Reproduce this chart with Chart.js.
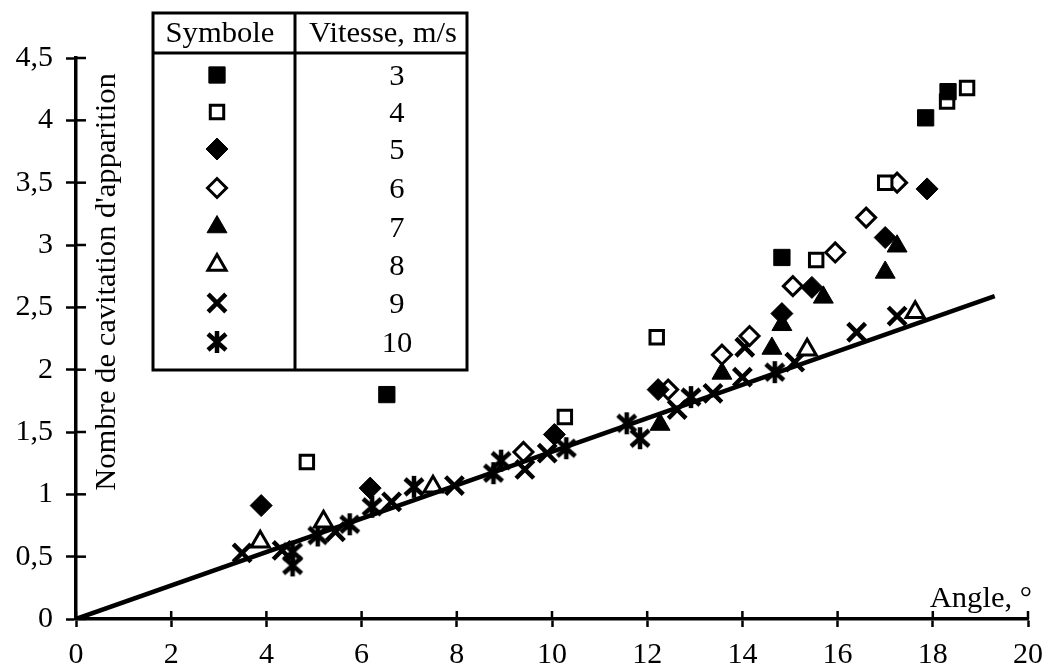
<!DOCTYPE html>
<html lang="fr">
<head>
<meta charset="utf-8">
<title>Nombre de cavitation d'apparition</title>
<script src="https://cdn.jsdelivr.net/npm/chart.js@4.4.1/dist/chart.umd.min.js"></script>
<style>
  html, body { margin: 0; padding: 0; background: #fff; }
  #cadre { position: relative; width: 1057px; height: 671px; }
</style>
</head>
<body>
<div id="cadre"><canvas id="grafico"></canvas></div>
<script>
// Valeurs : angle (°) et nombre de cavitation, pour chaque vitesse (m/s)
const vitesses = ['3', '4', '5', '6', '7', '8', '9', '10'];

const angleV3 = [6.53, 14.83, 17.85, 18.32];
const sigmaV3 = [1.80, 2.90, 4.02, 4.23];

const angleV4 = [4.85, 10.27, 12.2, 15.55, 17.0, 18.3, 18.72];
const sigmaV4 = [1.26, 1.62, 2.26, 2.88, 3.50, 4.15, 4.26];

const angleV5 = [3.89, 6.18, 10.05, 12.23, 14.83, 15.46, 17.0, 17.88];
const sigmaV5 = [0.91, 1.05, 1.48, 1.84, 2.45, 2.66, 3.06, 3.45];

const angleV6 = [9.4, 12.44, 13.57, 14.15, 15.06, 15.95, 16.6, 17.25];
const sigmaV6 = [1.34, 1.84, 2.12, 2.27, 2.67, 2.94, 3.22, 3.50];

const angleV7 = [12.27, 13.57, 14.62, 14.83, 15.7, 17.0, 17.25];
const sigmaV7 = [1.56, 1.97, 2.17, 2.36, 2.58, 2.78, 2.99];

const angleV8 = [3.87, 5.2, 7.5, 15.36, 17.63];
const sigmaV8 = [0.62, 0.78, 1.06, 2.16, 2.46];

const angleV9 = [3.49, 4.33, 5.45, 6.63, 7.95, 9.43, 9.9, 12.63, 13.38, 14.0, 14.05, 15.1, 16.4, 17.25];
const sigmaV9 = [0.53, 0.55, 0.70, 0.94, 1.07, 1.20, 1.33, 1.68, 1.81, 1.94, 2.18, 2.06, 2.30, 2.43];

const angleV10 = [4.55, 4.55, 5.08, 5.75, 6.22, 7.1, 8.77, 8.93, 10.3, 11.57, 11.85, 12.92, 14.68];
const sigmaV10 = [0.54, 0.43, 0.67, 0.76, 0.90, 1.06, 1.17, 1.27, 1.37, 1.57, 1.45, 1.78, 1.98];

// droite de corrélation
const droiteAngle = [0, 19.3];
const droiteSigma = [0, 2.59];

const ticksX = [0, 2, 4, 6, 8, 10, 12, 14, 16, 18, 20];
const ticksY = [0, 0.5, 1, 1.5, 2, 2.5, 3, 3.5, 4, 4.5];

const police = 'Liberation Serif, Times New Roman, serif';

function points(xs, ys) {
  return xs.map((x, i) => ({ x: x, y: ys[i] }));
}

// astérisque (vitesse 10 m/s)
function etoile() {
  const c = document.createElement('canvas');
  c.width = 24; c.height = 24;
  const g = c.getContext('2d');
  g.strokeStyle = '#000';
  g.lineWidth = 4.5;
  g.beginPath();
  g.moveTo(12, 1); g.lineTo(12, 23);
  g.moveTo(3, 4); g.lineTo(21, 20);
  g.moveTo(21, 4); g.lineTo(3, 20);
  g.stroke();
  return c;
}

const symboles = [
  { pointStyle: 'rect', pointRadius: 11.5, pointBackgroundColor: '#000', pointBorderWidth: 1 },
  { pointStyle: 'rect', pointRadius: 9.5, pointBackgroundColor: '#fff', pointBorderWidth: 3 },
  { pointStyle: 'rectRot', pointRadius: 11, pointBackgroundColor: '#000', pointBorderWidth: 1 },
  { pointStyle: 'rectRot', pointRadius: 9.5, pointBackgroundColor: '#fff', pointBorderWidth: 3 },
  { pointStyle: 'triangle', pointRadius: 11.5, pointBackgroundColor: '#000', pointBorderWidth: 1 },
  { pointStyle: 'triangle', pointRadius: 10.5, pointBackgroundColor: '#fff', pointBorderWidth: 3 },
  { pointStyle: 'crossRot', pointRadius: 12.5, pointBackgroundColor: '#000', pointBorderWidth: 4.5 },
  { pointStyle: etoile(), pointRadius: 12, pointBackgroundColor: '#000', pointBorderWidth: 0 }
];

const series = [
  points(angleV3, sigmaV3), points(angleV4, sigmaV4), points(angleV5, sigmaV5),
  points(angleV6, sigmaV6), points(angleV7, sigmaV7), points(angleV8, sigmaV8),
  points(angleV9, sigmaV9), points(angleV10, sigmaV10)
];

const datasets = series.map((d, i) => Object.assign({
  label: vitesses[i] + ' m/s',
  data: d,
  pointBorderColor: '#000',
  pointHoverRadius: symboles[i].pointRadius,
  showLine: false
}, symboles[i]));

datasets.push({
  type: 'line',
  label: 'droite',
  data: points(droiteAngle, droiteSigma),
  borderColor: '#000',
  borderWidth: 4.5,
  pointRadius: 0,
  fill: false,
  order: -1
});

// texte légèrement étiré comme dans la figure
function texte(ctx, str, x, y, align, rot) {
  ctx.save();
  ctx.translate(x, y);
  if (rot) ctx.rotate(rot);
  ctx.scale(1.02, 1);
  ctx.textAlign = align;
  ctx.fillText(str, 0, 0);
  ctx.restore();
}

const habillage = {
  id: 'habillage',
  afterDraw(chart) {
    const ctx = chart.ctx;
    const sx = chart.scales.x, sy = chart.scales.y;
    ctx.save();
    ctx.strokeStyle = '#000';
    ctx.fillStyle = '#000';

    // partie intérieure des graduations
    ctx.lineWidth = 2.5;
    ticksX.forEach(v => {
      const p = sx.getPixelForValue(v);
      ctx.beginPath(); ctx.moveTo(p, sy.bottom); ctx.lineTo(p, sy.bottom - 8); ctx.stroke();
    });
    ticksY.forEach(v => {
      const p = sy.getPixelForValue(v);
      ctx.beginPath(); ctx.moveTo(sx.left, p); ctx.lineTo(sx.left + 10, p); ctx.stroke();
    });

    // titres des axes
    ctx.font = '30px ' + police;
    ctx.textBaseline = 'alphabetic';
    texte(ctx, "Nombre de cavitation d'apparition", 115, 282, 'center', -Math.PI / 2);
    texte(ctx, 'Angle, °', 1032, 607, 'right', 0);

    // tableau des symboles
    const g = 153, d = 467, h = 13, b = 370, ligne = 53, col = 295;
    ctx.lineWidth = 3;
    ctx.strokeRect(g, h, d - g, b - h);
    ctx.beginPath();
    ctx.moveTo(g, ligne); ctx.lineTo(d, ligne);
    ctx.moveTo(col, h); ctx.lineTo(col, b);
    ctx.stroke();
    texte(ctx, 'Symbole', 220, 42, 'center', 0);
    texte(ctx, 'Vitesse, m/s', 383, 42, 'center', 0);

    const rangs = [75, 112, 149, 188, 227, 265, 303, 342];
    vitesses.forEach((v, i) => {
      ctx.fillStyle = '#000';
      texte(ctx, v, 397, rangs[i] + 10, 'center', 0);
      const s = symboles[i];
      ctx.fillStyle = s.pointBackgroundColor;
      ctx.strokeStyle = '#000';
      ctx.lineWidth = s.pointBorderWidth;
      Chart.helpers.drawPoint(ctx, {
        pointStyle: s.pointStyle, radius: s.pointRadius,
        borderWidth: s.pointBorderWidth, rotation: 0
      }, 217, rangs[i]);
    });
    ctx.restore();
  }
};

new Chart(document.getElementById('grafico').getContext('2d'), {
  type: 'scatter',
  data: { datasets: datasets },
  options: {
    responsive: true,
    maintainAspectRatio: false,
    animation: false,
    layout: { padding: { top: 58, right: 29, left: 0, bottom: 0 } },
    plugins: {
      legend: { display: false },
      tooltip: { enabled: false }
    },
    scales: {
      x: {
        type: 'linear',
        min: 0, max: 20,
        afterFit: s => { s.height = 52; },
        ticks: { stepSize: 2, color: '#000', padding: 10, font: { family: police, size: 30 } },
        grid: { drawOnChartArea: false, color: '#000', tickLength: 8, tickWidth: 2.5 },
        border: { color: '#000', width: 3.5 }
      },
      y: {
        type: 'linear',
        min: 0, max: 4.5,
        afterFit: s => { s.width = 76; },
        ticks: {
          stepSize: 0.5, color: '#000', padding: 13,
          font: { family: police, size: 30 },
          callback: v => String(v).replace('.', ',')
        },
        grid: { drawOnChartArea: false, color: '#000', tickLength: 10, tickWidth: 2.5 },
        border: { color: '#000', width: 3.5 }
      }
    }
  },
  plugins: [habillage]
});
</script>
</body>
</html>
